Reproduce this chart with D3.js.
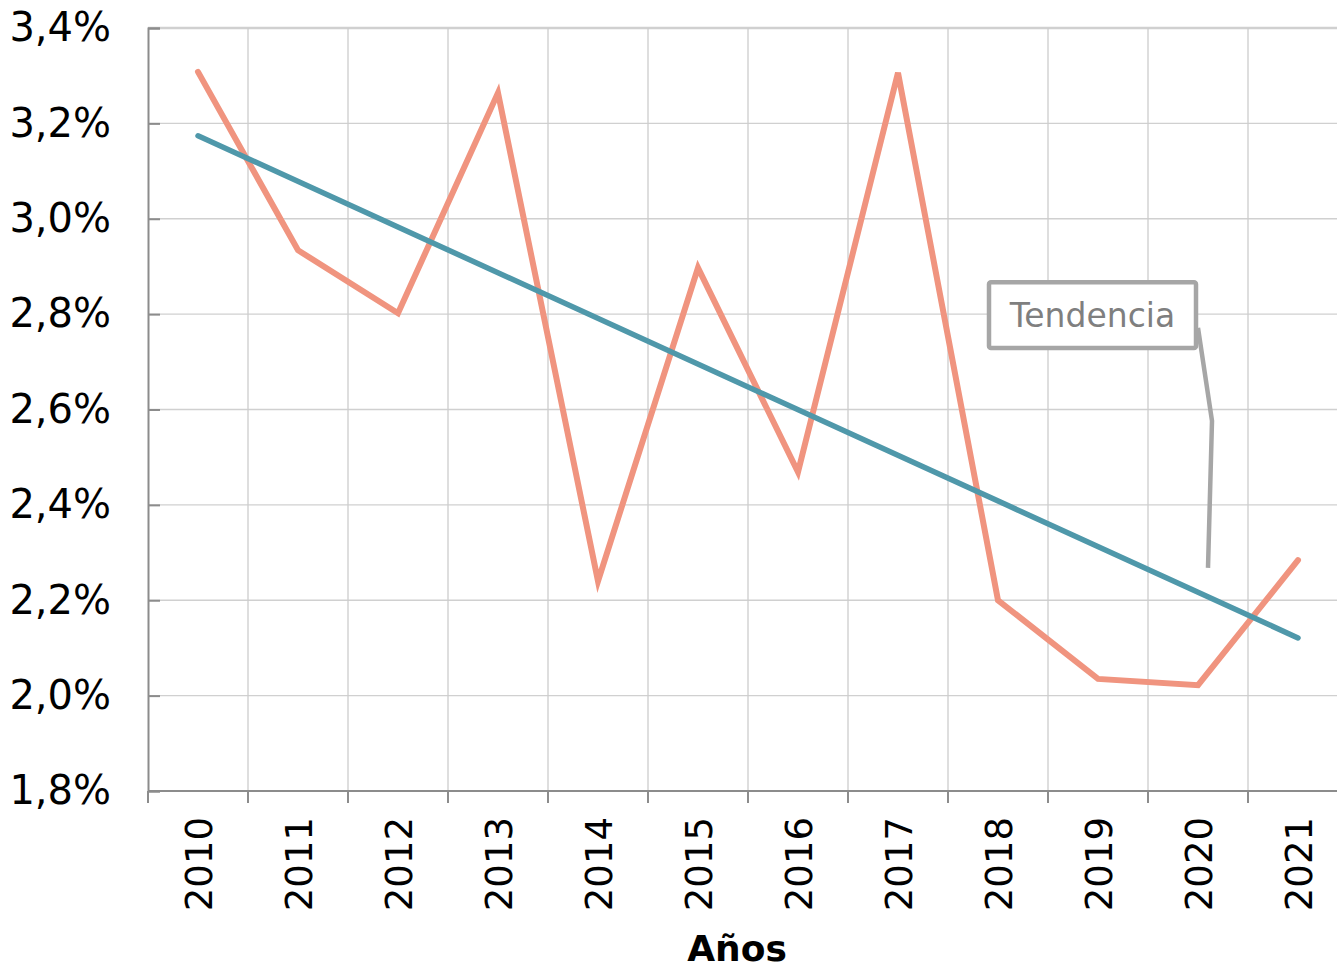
<!DOCTYPE html>
<html>
<head>
<meta charset="utf-8">
<script src="https://cdn.jsdelivr.net/npm/d3@7"></script>
<style>
  html, body { margin: 0; padding: 0; background: #fff; }
  svg { display: block; font-family: "DejaVu Sans", Verdana, sans-serif; }
</style>
</head>
<body>
<div id="chart"></div>
<script>
const years = ['2010', '2011', '2012', '2013', '2014', '2015', '2016', '2017', '2018', '2019', '2020', '2021'];
const values = [3.308, 2.934, 2.802, 3.264, 2.240, 2.897, 2.469, 3.306, 2.200, 2.035, 2.022, 2.284];
const trendEnds = [3.174, 2.121];
const yTicks = [1.8, 2.0, 2.2, 2.4, 2.6, 2.8, 3.0, 3.2, 3.4];

const width = 1337;
const height = 968;
const margin = { top: 28, left: 148, bottom: 177 };
const plotW = 1200;
const plotH = height - margin.top - margin.bottom;

const svg = d3.select('#chart')
  .append('svg')
  .attr('width', width)
  .attr('height', height);

const g = svg.append('g')
  .attr('transform', `translate(${margin.left},${margin.top})`);

const x = d3.scaleBand().domain(years).range([0, plotW]);
const y = d3.scaleLinear().domain([1.8, 3.4]).range([plotH, 0]);
const cx = (d) => x(d) + x.bandwidth() / 2;
// index scale for annotation placement
const xi = d3.scaleLinear().domain([0, 1]).range([cx(years[0]), cx(years[1])]);

const fmt = (v) => `${d3.format('.1f')(v).replace('.', ',')}%`;

// grid
g.append('g')
  .selectAll('line')
  .data(yTicks.slice(1))
  .join('line')
  .attr('x1', 0)
  .attr('x2', plotW)
  .attr('y1', (d) => y(d))
  .attr('y2', (d) => y(d))
  .attr('stroke', '#d0d0d0')
  .attr('stroke-width', (d) => (d === 3.4 ? 2.5 : 1.3));

g.append('g')
  .selectAll('line')
  .data(years.slice(1).concat(['end']))
  .join('line')
  .attr('x1', (d, i) => x.bandwidth() * (i + 1))
  .attr('x2', (d, i) => x.bandwidth() * (i + 1))
  .attr('y1', 0)
  .attr('y2', plotH)
  .attr('stroke', '#cccccc')
  .attr('stroke-width', 1.3);

// y axis
const yAxis = g.append('g')
  .call(d3.axisLeft(y).tickValues(yTicks).tickFormat(fmt).tickSize(-12).tickPadding(37));
yAxis.select('.domain').attr('stroke', '#8c8c8c').attr('stroke-width', 2);
yAxis.selectAll('.tick line').attr('stroke', '#8c8c8c').attr('stroke-width', 2);
yAxis.selectAll('.tick text')
  .attr('font-size', 40)
  .attr('font-family', '"DejaVu Sans", Verdana, sans-serif')
  .attr('fill', '#000');

// x axis
const xAxis = g.append('g')
  .attr('transform', `translate(0,${plotH})`);
xAxis.append('line')
  .attr('x1', 0)
  .attr('x2', plotW)
  .attr('stroke', '#8c8c8c')
  .attr('stroke-width', 2);
xAxis.selectAll('line.tk')
  .data(d3.range(years.length + 1))
  .join('line')
  .attr('class', 'tk')
  .attr('x1', (d) => d * x.bandwidth())
  .attr('x2', (d) => d * x.bandwidth())
  .attr('y1', 0)
  .attr('y2', 12)
  .attr('stroke', '#8c8c8c')
  .attr('stroke-width', 2);
xAxis.selectAll('text')
  .data(years)
  .join('text')
  .attr('transform', (d) => `translate(${cx(d) + 1},26) rotate(-90)`)
  .attr('text-anchor', 'end')
  .attr('dy', '0.36em')
  .attr('font-size', 37)
  .attr('fill', '#000')
  .text((d) => d);

svg.append('text')
  .attr('x', 737)
  .attr('y', 961)
  .attr('text-anchor', 'middle')
  .attr('font-size', 36)
  .attr('font-weight', 'bold')
  .attr('fill', '#000')
  .text('Años');

// data line
const line = d3.line()
  .x((d, i) => cx(years[i]))
  .y((d) => y(d));

g.append('path')
  .datum(values)
  .attr('d', line)
  .attr('fill', 'none')
  .attr('stroke', '#f0947f')
  .attr('stroke-width', 6)
  .attr('stroke-linecap', 'round')
  .attr('stroke-linejoin', 'miter');

// trend line
g.append('line')
  .attr('x1', cx(years[0]))
  .attr('x2', cx(years[years.length - 1]))
  .attr('y1', y(trendEnds[0]))
  .attr('y2', y(trendEnds[1]))
  .attr('stroke', '#4f98aa')
  .attr('stroke-width', 5.5)
  .attr('stroke-linecap', 'round');

// annotation
const leader = [[10.0, 2.771], [10.14, 2.576], [10.10, 2.268]];
g.append('path')
  .attr('d', d3.line().x((d) => xi(d[0])).y((d) => y(d[1]))(leader))
  .attr('fill', 'none')
  .attr('stroke', '#a6a6a6')
  .attr('stroke-width', 4.5);

const bx0 = xi(7.91);
const bx1 = xi(9.98);
const by0 = y(2.867);
const by1 = y(2.729);
g.append('rect')
  .attr('x', bx0)
  .attr('y', by0)
  .attr('width', bx1 - bx0)
  .attr('height', by1 - by0)
  .attr('rx', 2)
  .attr('fill', '#fff')
  .attr('stroke', '#a6a6a6')
  .attr('stroke-width', 4.5);
g.append('text')
  .attr('x', (bx0 + bx1) / 2)
  .attr('y', (by0 + by1) / 2)
  .attr('dy', '0.36em')
  .attr('text-anchor', 'middle')
  .attr('font-size', 33)
  .attr('fill', '#7f7f7f')
  .text('Tendencia');
</script>
</body>
</html>
